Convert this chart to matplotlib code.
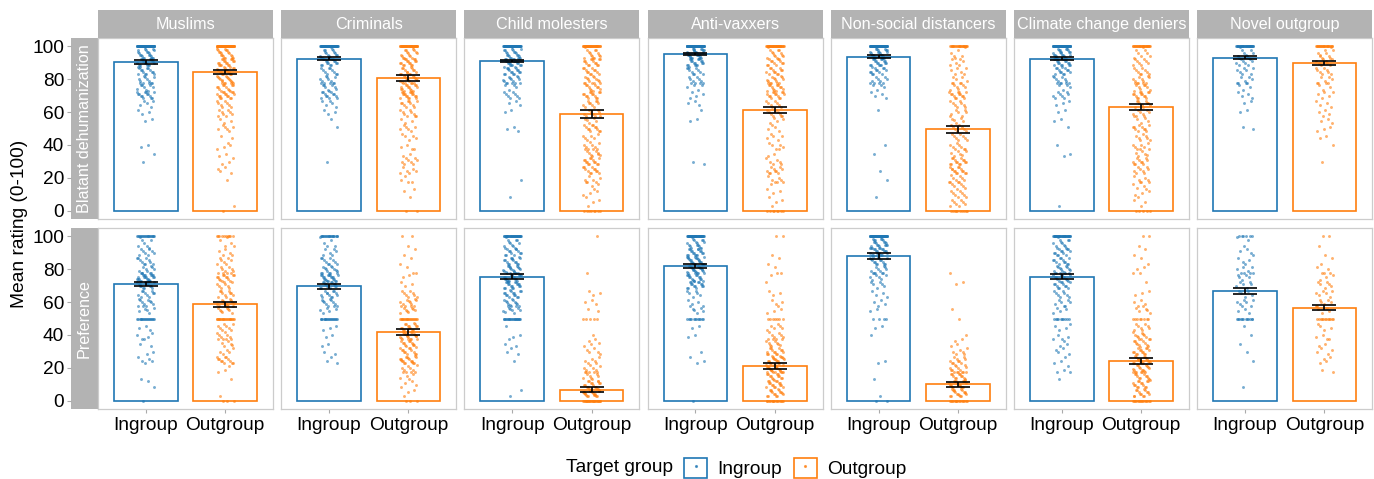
import numpy as np
import matplotlib
matplotlib.use("Agg")
import matplotlib.pyplot as plt
from matplotlib.patches import Rectangle
from matplotlib.lines import Line2D
from matplotlib.legend_handler import HandlerTuple

plt.rcParams['font.family'] = ['Liberation Sans', 'DejaVu Sans']

# Facets
targets = ["Muslims", "Criminals", "Child molesters", "Anti-vaxxers",
           "Non-social distancers", "Climate change deniers", "Novel outgroup"]
measures = ["Blatant dehumanization", "Preference"]
groups = ["Ingroup", "Outgroup"]

# Bar heights (mean rating) and standard errors
blatant_in_mean = [90.4, 92.4, 91.0, 95.2, 93.6, 92.4, 93.0]
blatant_out_mean = [84.3, 80.7, 58.8, 61.2, 49.6, 63.0, 90.0]
blatant_in_se = [1.0, 0.9, 0.8, 0.8, 0.8, 0.9, 1.0]
blatant_out_se = [1.2, 1.6, 2.2, 2.0, 2.1, 2.0, 1.3]
pref_in_mean = [70.9, 69.5, 75.5, 81.9, 88.0, 75.5, 66.7]
pref_out_mean = [58.6, 41.8, 6.8, 21.3, 10.0, 24.1, 56.6]
pref_in_se = [1.4, 1.4, 1.5, 1.5, 1.6, 1.7, 1.7]
pref_out_se = [1.4, 1.6, 1.4, 1.8, 1.4, 1.7, 1.7]

# Individual ratings: number of respondents per 5-point band (0, 5, ..., 100)
rating_bins = list(range(0, 101, 5))
blatant_in_counts = [
    [0, 0, 0, 0, 0, 0, 1, 1, 2, 0, 0, 2, 3, 5, 14, 10, 10, 14, 18, 22, 70],
    [0, 0, 0, 0, 0, 0, 1, 0, 0, 0, 1, 1, 3, 5, 12, 10, 10, 10, 16, 18, 70],
    [0, 0, 1, 0, 1, 0, 0, 0, 0, 0, 3, 0, 2, 3, 8, 6, 12, 16, 20, 22, 70],
    [0, 0, 0, 0, 0, 0, 2, 0, 0, 0, 0, 2, 1, 3, 4, 6, 8, 10, 18, 28, 90],
    [0, 0, 1, 0, 1, 1, 0, 1, 1, 0, 0, 0, 1, 0, 4, 6, 8, 12, 18, 24, 80],
    [0, 1, 0, 0, 0, 0, 0, 2, 1, 0, 1, 2, 2, 3, 8, 6, 10, 12, 18, 25, 80],
    [0, 0, 0, 0, 0, 0, 0, 0, 0, 0, 2, 0, 2, 2, 4, 5, 6, 7, 8, 10, 35],
]
blatant_out_counts = [
    [1, 1, 0, 0, 1, 4, 3, 2, 4, 2, 6, 4, 7, 8, 16, 14, 16, 16, 18, 20, 60],
    [2, 0, 2, 2, 3, 6, 8, 3, 3, 5, 6, 4, 8, 10, 18, 16, 16, 14, 16, 16, 45],
    [8, 3, 4, 4, 6, 12, 14, 10, 8, 6, 12, 6, 8, 10, 14, 12, 12, 12, 14, 14, 40],
    [8, 3, 3, 3, 6, 10, 6, 3, 5, 5, 4, 5, 8, 8, 14, 14, 12, 12, 12, 13, 40],
    [10, 8, 8, 8, 8, 14, 14, 8, 6, 8, 8, 6, 6, 8, 14, 8, 6, 6, 6, 6, 25],
    [5, 3, 4, 5, 6, 8, 10, 7, 6, 7, 10, 5, 8, 10, 14, 10, 10, 9, 8, 8, 30],
    [0, 0, 0, 0, 0, 0, 1, 0, 1, 2, 3, 3, 4, 4, 5, 5, 6, 8, 8, 10, 25],
]
pref_in_counts = [
    [1, 0, 2, 1, 0, 5, 2, 3, 4, 3, 18, 6, 10, 10, 15, 25, 10, 10, 8, 7, 20],
    [0, 0, 0, 0, 0, 3, 2, 2, 2, 3, 18, 6, 10, 12, 15, 22, 12, 10, 6, 5, 20],
    [0, 2, 0, 0, 0, 1, 3, 3, 2, 1, 22, 10, 12, 15, 18, 20, 18, 15, 12, 12, 35],
    [1, 0, 0, 0, 0, 3, 1, 0, 2, 2, 12, 6, 4, 6, 15, 18, 20, 22, 18, 17, 45],
    [2, 1, 0, 1, 0, 2, 0, 0, 1, 2, 4, 2, 4, 4, 6, 8, 10, 15, 20, 25, 60],
    [0, 0, 0, 2, 3, 3, 4, 4, 3, 4, 10, 5, 6, 8, 12, 15, 14, 12, 12, 12, 35],
    [0, 0, 1, 0, 0, 1, 1, 1, 1, 1, 12, 4, 6, 5, 6, 7, 6, 4, 4, 3, 6],
]
pref_out_counts = [
    [3, 1, 0, 1, 3, 12, 5, 7, 8, 8, 22, 10, 12, 10, 8, 15, 8, 7, 5, 5, 10],
    [3, 3, 4, 6, 8, 18, 12, 14, 18, 16, 20, 10, 10, 8, 3, 3, 2, 2, 2, 1, 2],
    [25, 25, 15, 10, 8, 6, 5, 5, 1, 0, 5, 2, 3, 3, 0, 1, 0, 0, 0, 0, 1],
    [15, 16, 16, 16, 20, 20, 14, 10, 8, 6, 7, 4, 3, 3, 1, 2, 2, 2, 1, 0, 2],
    [15, 18, 18, 15, 12, 10, 6, 4, 1, 0, 1, 1, 0, 0, 2, 1, 0, 0, 0, 0, 0],
    [15, 14, 14, 14, 16, 18, 14, 12, 10, 8, 8, 6, 4, 3, 1, 1, 3, 2, 2, 1, 2],
    [0, 0, 0, 0, 2, 4, 4, 3, 3, 4, 12, 5, 6, 6, 6, 5, 3, 2, 1, 1, 2],
]

colors = {"Ingroup": "#1F77B4", "Outgroup": "#FF7F0E"}
strip_grey = "#B3B3B3"
border_grey = "#CCCCCC"

# per row: means, errors, counts and the band values answered exactly
rows = [
    (blatant_in_mean, blatant_out_mean, blatant_in_se, blatant_out_se,
     blatant_in_counts, blatant_out_counts, (0, 100)),
    (pref_in_mean, pref_out_mean, pref_in_se, pref_out_se,
     pref_in_counts, pref_out_counts, (0, 50, 100)),
]

PHI = 0.6180339887
PLASTIC = 0.7548776662
FS = 13.8


def spread_ratings(counts, exact):
    # place each respondent inside its 5-point band
    ys = []
    for v, n in zip(rating_bins, counts):
        for k in range(n):
            if v in exact:
                ys.append(v)
            else:
                u = (k * PLASTIC + v * 0.013) % 1
                lo = max(v - 2.5, 0.5)
                hi = 99.5 if v >= 95 else v + 2.5
                ys.append(lo + u * (hi - lo))
    return np.array(ys)


def jitter(n, pos, width=0.11):
    return pos + width * (2 * ((np.arange(n) * PHI + 0.37) % 1) - 1)


W, H = 1374, 479
fig = plt.figure(figsize=(W / 100, H / 100), dpi=100)


def px_axes(x0, y0, x1, y1):
    return fig.add_axes([x0 / W, 1 - y1 / H, (x1 - x0) / W, (y1 - y0) / H])


col_left = [98 + i * 183.2 for i in range(len(targets))]
panel_w = 175
row_span = [(38, 219), (228, 409)]

for r, (in_mean, out_mean, in_se, out_se, in_counts, out_counts, exact) in enumerate(rows):
    top, bottom = row_span[r]

    # row strip on the left, carrying the y axis
    sax = px_axes(71, top, 98, bottom)
    sax.set_facecolor(strip_grey)
    sax.set_xlim(0, 1)
    sax.set_ylim(-5, 105)
    sax.set_xticks([])
    sax.set_yticks([0, 20, 40, 60, 80, 100])
    sax.tick_params(axis='y', length=3, width=0.8, color='#AAAAAA',
                    labelsize=FS, pad=2)
    for s in sax.spines.values():
        s.set_visible(False)
    sax.text(0.5, 0.5, measures[r], rotation=90, color='white', fontsize=11.6,
             ha='center', va='center', transform=sax.transAxes)

    for c, target in enumerate(targets):
        ax = px_axes(col_left[c], top, col_left[c] + panel_w, bottom)
        ax.set_xlim(0.4, 2.6)
        ax.set_ylim(-5, 105)
        ax.set_yticks([])
        for s in ax.spines.values():
            s.set_color(border_grey)
            s.set_linewidth(0.9)

        means = [in_mean[c], out_mean[c]]
        ses = [in_se[c], out_se[c]]
        ax.bar([1, 2], means, width=0.8, facecolor='none',
               edgecolor=[colors[g] for g in groups], linewidth=1.2, zorder=1)

        for pos, g, cnt in zip([1, 2], groups, [in_counts[c], out_counts[c]]):
            ys = spread_ratings(cnt, exact)
            xs = jitter(len(ys), pos)
            ax.scatter(xs, ys, s=4.5, color=colors[g], alpha=0.6,
                       linewidths=0, zorder=2)

        ax.errorbar([1, 2], means, yerr=ses, fmt='none', ecolor='black',
                    elinewidth=1.2, capsize=8.6, capthick=1.2, zorder=3)

        if r == len(rows) - 1:
            ax.set_xticks([1, 2])
            ax.set_xticklabels(groups)
            ax.tick_params(axis='x', length=3, width=0.8, color='#AAAAAA',
                           labelsize=FS, pad=3)
        else:
            ax.set_xticks([])

        if r == 0:
            tax = px_axes(col_left[c], 10, col_left[c] + panel_w, 38)
            tax.set_facecolor(strip_grey)
            tax.set_xticks([])
            tax.set_yticks([])
            for s in tax.spines.values():
                s.set_visible(False)
            tax.text(0.5, 0.48, target, color='white', fontsize=11.6,
                     ha='center', va='center', transform=tax.transAxes)

fig.text(20 / W, 1 - 224 / H, "Mean rating (0-100)", rotation=90,
         fontsize=FS, ha='center', va='center')

# legend
fig.text(566 / W, 1 - 468 / H, "Target group", fontsize=FS,
         ha='left', va='center')
handles = []
for g in groups:
    box = Rectangle((0, 0), 1, 1, facecolor='white', edgecolor=colors[g],
                    linewidth=1.2)
    dot = Line2D([], [], marker='.', markersize=2.5, color=colors[g],
                 linestyle='none', alpha=0.7)
    handles.append((box, dot))
fig.legend(handles, groups, handler_map={tuple: HandlerTuple(ndivide=1)},
           loc='center left', bbox_to_anchor=(684 / W, 1 - 468 / H),
           ncol=2, frameon=False, fontsize=FS, handlelength=1.2,
           handleheight=1.2, handletextpad=0.55, columnspacing=0.6,
           borderpad=0, borderaxespad=0)

fig.savefig("out.png", dpi=100)
